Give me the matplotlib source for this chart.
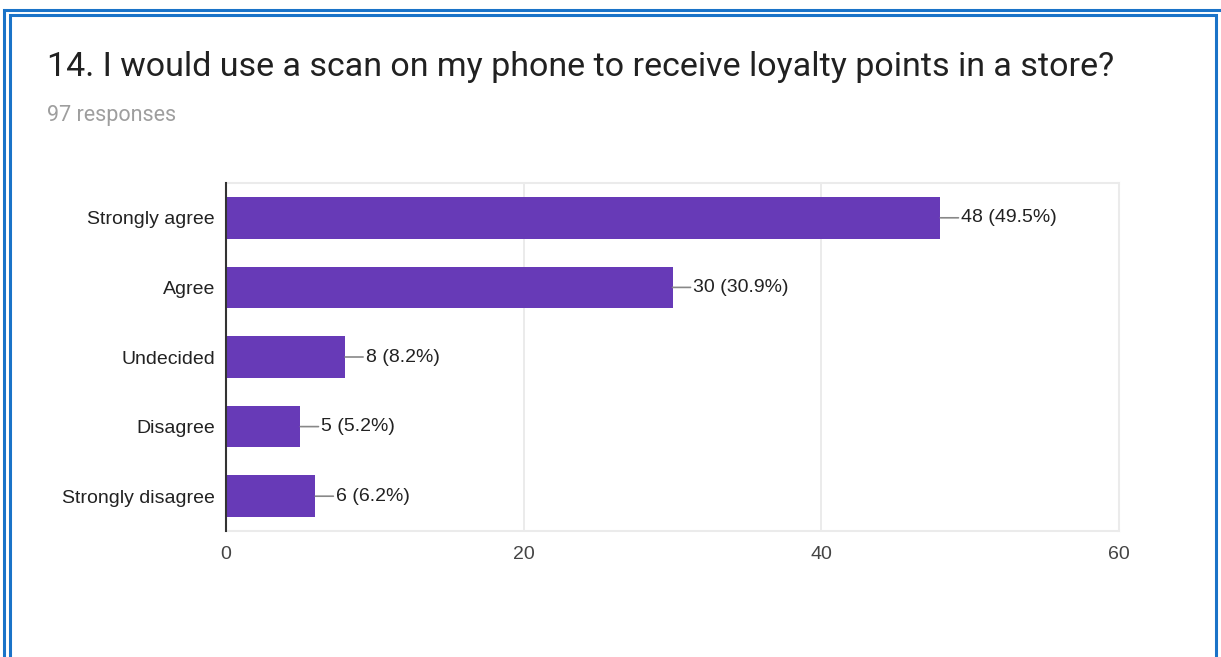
import matplotlib

matplotlib.use('Agg')
import matplotlib.pyplot as plt
from matplotlib.patches import Rectangle

title = "14. I would use a scan on my phone to receive loyalty points in a store?"
responses = 97
categories = ['Strongly agree', 'Agree', 'Undecided', 'Disagree', 'Strongly disagree']
counts = [48, 30, 8, 5, 6]
xticks = [0, 20, 40, 60]

bar_color = '#673ab7'
frame_blue = '#1a73c8'

fig = plt.figure(figsize=(12.21, 6.57), dpi=100, facecolor='w')

# double blue frame like the screenshot
fig.patches.append(Rectangle((4 / 1221, -0.05), 1.1, 1.05 - 10 / 657, transform=fig.transFigure,
                             fill=False, edgecolor=frame_blue, linewidth=2.2))
fig.patches.append(Rectangle((10 / 1221, -0.05), (1216 - 10) / 1221, 1.05 - 15 / 657, transform=fig.transFigure,
                             fill=False, edgecolor=frame_blue, linewidth=2.2))

fig.text(47 / 1221, 1 - 67 / 657, title, fontsize=24.5, family='Roboto', color='#212121', va='center')
fig.text(47 / 1221, 1 - 115 / 657, '{} responses'.format(responses), fontsize=15.5, family='Roboto',
         color='#9e9e9e', va='center')

ax = fig.add_axes([226 / 1221, 1 - 531 / 657, (1119 - 226) / 1221, (531 - 183) / 657])

ypos = list(range(len(categories)))
ax.barh(ypos, counts, height=0.6, color=bar_color, zorder=3)
ax.set_ylim(len(categories) - 0.5, -0.5)
ax.set_xlim(xticks[0], xticks[-1])
ax.set_yticks(ypos)
ax.set_yticklabels(categories, family='Liberation Sans', fontsize=14, color='#222222')
ax.set_xticks(xticks)
ax.set_xticklabels([str(t) for t in xticks], family='Liberation Sans', fontsize=14, color='#444444')
ax.tick_params(length=0, pad=8)
ax.tick_params(axis='x', pad=11)
ax.grid(axis='x', color='#e8e8e8', linewidth=1.2, zorder=0)

for s in ['top', 'right', 'bottom']:
    ax.spines[s].set_color('#ebebeb')
    ax.spines[s].set_linewidth(1.5)
ax.spines['left'].set_color('#333333')
ax.spines['left'].set_linewidth(1.5)
ax.spines['left'].set_zorder(4)

for i, c in enumerate(counts):
    label = '{} ({:.1f}%)'.format(c, 100.0 * c / responses)
    ax.annotate(label, xy=(c, i), xytext=(15, 0), textcoords='offset points',
                va='center', ha='left', family='Liberation Sans', fontsize=14, color='#222222',
                arrowprops=dict(arrowstyle='-', color='#888888', lw=1.2, shrinkA=0, shrinkB=0))

plt.savefig('out.png', dpi=100)
